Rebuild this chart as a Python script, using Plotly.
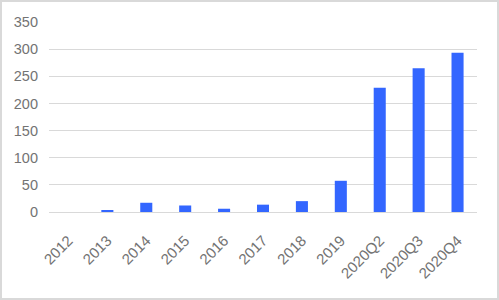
import plotly.graph_objects as go

categories = ["2012", "2013", "2014", "2015", "2016", "2017", "2018", "2019", "2020Q2", "2020Q3", "2020Q4"]
values = [0, 2, 17, 12, 6, 13.5, 20, 57.5, 229, 265, 293.5]
y_ticks = [0, 50, 100, 150, 200, 250, 300, 350]

W, H = 499, 300
ml, mr, mt, mb = 49, 22, 22, 88
pw, ph = W - ml - mr, H - mt - mb

fig = go.Figure(go.Bar(x=categories, y=values, marker_color="#3366ff", marker_line_width=0, width=0.31))

fig.update_layout(
    width=W, height=H,
    margin=dict(l=ml, r=mr, t=mt, b=mb),
    paper_bgcolor="white", plot_bgcolor="white",
    font=dict(family="Liberation Sans, Arial, sans-serif", size=15, color="#737373"),
    showlegend=False,
)
fig.update_xaxes(type="category", tickangle=-45, showgrid=False, showline=False, ticks="",
                 ticklabelstandoff=16, tickfont=dict(size=15, color="#737373"))
fig.update_yaxes(range=[0, 350], tickvals=y_ticks, showgrid=True, gridcolor="#d9d9d9", gridwidth=1,
                 zeroline=True, zerolinecolor="#d9d9d9", zerolinewidth=1, showline=False, ticks="",
                 ticklabelstandoff=10, tickfont=dict(size=14.5, color="#737373"))

# outer frame
fig.add_shape(type="rect", xref="paper", yref="paper",
              x0=(1 - ml) / pw, x1=(W - 1 - ml) / pw,
              y0=-(H - 1 - mt - ph) / ph, y1=1 + (mt - 1) / ph,
              line=dict(color="#d9d9d9", width=2), fillcolor="rgba(0,0,0,0)", layer="below")

fig.write_html("out.html")
